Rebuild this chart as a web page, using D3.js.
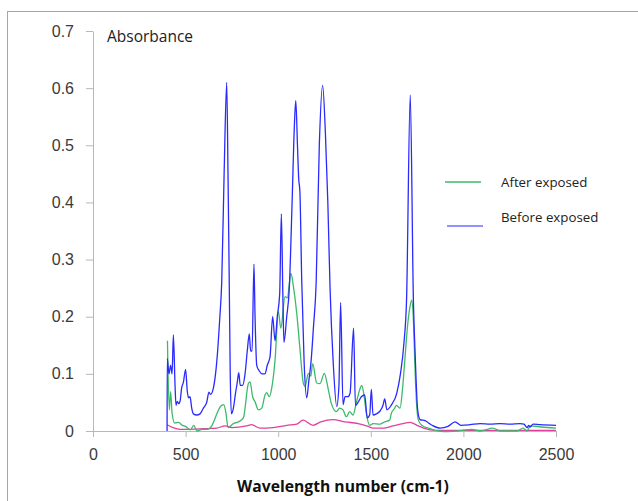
<!DOCTYPE html>
<html lang="en">
<head>
    <meta charset="UTF-8">
    <title>Absorbance spectrum</title>
    <script src="https://d3js.org/d3.v7.min.js"></script>
    <style>
        body {
            margin: 0;
            background: #fff;
            font-family: "Open Sans", "Noto Sans", sans-serif;
        }
        .tick text {
            fill: #3a3a3a;
            font-size: 16px;
        }
        .axis path, .axis line {
            stroke: #b8b8b8;
        }
        .spectrum {
            fill: none;
            stroke-width: 1.3;
        }
    </style>
</head>
<body>
    <div id="chart"></div>

    <script>
        // [wavenumber, absorbance]
        const beforeExposed = [
            [400, 0], [401, 0.127], [410, 0.10], [419, 0.115], [427, 0.10], [434, 0.168], [443, 0.08],
            [448, 0.045], [455, 0.052], [463, 0.048], [470, 0.052], [479, 0.076], [488, 0.085], [500, 0.108],
            [509, 0.07], [516, 0.058], [524, 0.06], [533, 0.04], [542, 0.03], [560, 0.028], [578, 0.03],
            [596, 0.04], [614, 0.05], [626, 0.068], [635, 0.064], [650, 0.075], [668, 0.12], [685, 0.20],
            [695, 0.26], [708, 0.45], [722, 0.61], [729, 0.45], [736, 0.25], [741, 0.10], [747, 0.03],
            [758, 0.04], [769, 0.065], [779, 0.085], [787, 0.102], [795, 0.08], [808, 0.08], [821, 0.10],
            [833, 0.14], [844, 0.17], [851, 0.14], [859, 0.14], [869, 0.292], [875, 0.20], [884, 0.115],
            [898, 0.105], [913, 0.10], [929, 0.10], [941, 0.115], [956, 0.13], [970, 0.20], [983, 0.158],
            [995, 0.20], [1008, 0.24], [1017, 0.38], [1025, 0.24], [1031, 0.155], [1046, 0.20], [1060, 0.25],
            [1075, 0.40], [1088, 0.54], [1095, 0.578], [1104, 0.50], [1111, 0.44], [1117, 0.42], [1127, 0.264],
            [1140, 0.12], [1154, 0.058], [1166, 0.09], [1177, 0.12], [1190, 0.18], [1205, 0.26], [1222, 0.50],
            [1240, 0.605], [1255, 0.52], [1268, 0.40], [1280, 0.25], [1297, 0.12], [1316, 0.043], [1328, 0.08],
            [1337, 0.225], [1350, 0.046], [1361, 0.06], [1377, 0.06], [1388, 0.066], [1407, 0.18], [1417, 0.045],
            [1431, 0.05], [1449, 0.06], [1467, 0.063], [1481, 0.023], [1494, 0.028], [1503, 0.073], [1512, 0.028],
            [1530, 0.03], [1550, 0.035], [1566, 0.045], [1575, 0.056], [1587, 0.037], [1610, 0.045], [1640, 0.066],
            [1660, 0.10], [1679, 0.154], [1693, 0.229], [1713, 0.588], [1730, 0.229], [1740, 0.13], [1753, 0.037],
            [1766, 0.02], [1793, 0.018], [1831, 0.01], [1874, 0.005], [1917, 0.008], [1955, 0.016], [1987, 0.01],
            [2036, 0.011], [2090, 0.013], [2144, 0.012], [2198, 0.013], [2252, 0.012], [2306, 0.013], [2327, 0.012],
            [2344, 0.006], [2352, 0.01], [2360, 0.007], [2376, 0.012], [2414, 0.011], [2500, 0.01]
        ];

        const afterExposed = [
            [402, 0.158], [412, 0.037], [419, 0.069], [427, 0.031], [441, 0.014], [463, 0.015], [481, 0.01],
            [499, 0.008], [526, 0.002], [544, 0.01], [562, 0], [589, 0.003], [616, 0.003], [643, 0.01],
            [670, 0.031], [688, 0.043], [706, 0.046], [718, 0.031], [729, 0.006], [758, 0.013], [785, 0.016],
            [812, 0.023], [839, 0.083], [848, 0.086], [862, 0.06], [875, 0.051], [893, 0.037], [911, 0.04],
            [929, 0.063], [938, 0.067], [952, 0.06], [965, 0.075], [983, 0.124], [1001, 0.209], [1014, 0.18],
            [1037, 0.235], [1049, 0.233], [1069, 0.276], [1082, 0.253], [1100, 0.206], [1118, 0.142], [1136, 0.083],
            [1145, 0.078], [1163, 0.101], [1176, 0.096], [1186, 0.118], [1208, 0.084], [1226, 0.083], [1249, 0.101],
            [1269, 0.075], [1287, 0.048], [1314, 0.034], [1332, 0.04], [1350, 0.037], [1368, 0.025], [1386, 0.034],
            [1404, 0.028], [1422, 0.05], [1440, 0.072], [1451, 0.08], [1463, 0.063], [1476, 0.031], [1494, 0.01],
            [1512, 0.013], [1548, 0.012], [1575, 0.016], [1602, 0.019], [1611, 0.031], [1629, 0.04], [1638, 0.045],
            [1658, 0.04], [1670, 0.069], [1685, 0.13], [1700, 0.189], [1712, 0.218], [1721, 0.229], [1730, 0.194],
            [1739, 0.107], [1748, 0.043], [1757, 0.019], [1775, 0.01], [1811, 0.005], [1865, 0], [1920, -0.001],
            [1970, 0], [2045, 0.003], [2090, 0], [2160, 0.005], [2200, 0], [2290, 0], [2322, 0.005], [2344, 0],
            [2360, 0.009], [2420, 0.007], [2500, 0.005]
        ];

        const baseline = [
            [400, 0.011], [432, 0.006], [470, 0.003], [524, 0.003], [600, 0.004], [668, 0.005], [713, 0.009],
            [749, 0.006], [830, 0.009], [857, 0.011], [902, 0.005], [972, 0.006], [1046, 0.01], [1100, 0.012],
            [1134, 0.019], [1188, 0.01], [1230, 0.016], [1296, 0.02], [1361, 0.016], [1431, 0.013], [1485, 0.008],
            [1512, 0.005], [1566, 0.005], [1620, 0.009], [1674, 0.013], [1712, 0.015], [1750, 0.01], [1785, 0.005],
            [1850, 0.001], [2500, 0.001]
        ];

        const xTicks = [0, 500, 1000, 1500, 2000, 2500];
        const yTicks = [0, 0.1, 0.2, 0.3, 0.4, 0.5, 0.6, 0.7];
        const yTickLabels = ["0", "0.1", "0.2", "0.3", "0.4", "0.5", "0.6", "0.7"];
        const legendNames = ["After exposed", "Before exposed"];

        const width = 638;
        const height = 501;

        const svg = d3.select("#chart")
            .append("svg")
            .attr("width", width)
            .attr("height", height);

        // chart frame
        svg.append("rect")
            .attr("x", 7.5)
            .attr("y", 11.5)
            .attr("width", 700)
            .attr("height", 600)
            .attr("fill", "none")
            .attr("stroke", "#a6a6a6");

        const x = d3.scaleLinear().domain([0, 2500]).range([93, 556]);
        const y = d3.scaleLinear().domain([0, 0.7]).range([431, 31]);

        svg.append("g")
            .attr("class", "axis")
            .attr("transform", "translate(0,431)")
            .call(d3.axisBottom(x).tickValues(xTicks).tickSize(6).tickSizeOuter(0).tickPadding(12)
                .tickFormat(d3.format("d")))
            .call(g => g.selectAll("text").attr("font-family", null));

        svg.append("g")
            .attr("class", "axis")
            .attr("transform", "translate(93,0)")
            .call(d3.axisLeft(y).tickValues(yTicks).tickSize(7).tickSizeOuter(0).tickPadding(12)
                .tickFormat((d, i) => yTickLabels[i]))
            .call(g => g.selectAll("text").attr("font-family", null));

        const line = d3.line()
            .x(d => x(d[0]))
            .y(d => y(d[1]))
            .curve(d3.curveMonotoneX);

        svg.append("path")
            .datum(baseline)
            .attr("class", "spectrum")
            .attr("stroke", "#e23f9d")
            .attr("d", line);

        svg.append("path")
            .datum(afterExposed)
            .attr("class", "spectrum")
            .attr("stroke", "#3cba6c")
            .attr("d", line);

        svg.append("path")
            .datum(beforeExposed)
            .attr("class", "spectrum")
            .attr("stroke", "#2a2aff")
            .attr("d", line);

        svg.append("text")
            .attr("x", 107)
            .attr("y", 42)
            .attr("font-size", 15.5)
            .attr("fill", "#222")
            .text("Absorbance");

        svg.append("text")
            .attr("x", 343)
            .attr("y", 492)
            .attr("text-anchor", "middle")
            .attr("font-size", 15.7)
            .attr("font-weight", "bold")
            .attr("fill", "#111")
            .text("Wavelength number (cm-1)");

        // legend, lines and labels sit a bit apart as in the source
        const legendColors = ["#3cba6c", "#6f6fff"];
        const legendLineX = [445, 447];
        const legendLineY = [182, 226];
        const legendTextY = [187, 222];

        legendNames.forEach((name, i) => {
            svg.append("line")
                .attr("x1", legendLineX[i])
                .attr("x2", legendLineX[i] + 36)
                .attr("y1", legendLineY[i])
                .attr("y2", legendLineY[i])
                .attr("stroke", legendColors[i])
                .attr("stroke-width", 1.5);
            svg.append("text")
                .attr("x", 501)
                .attr("y", legendTextY[i])
                .attr("font-size", 13.3)
                .attr("fill", "#222")
                .text(name);
        });
    </script>
</body>
</html>
